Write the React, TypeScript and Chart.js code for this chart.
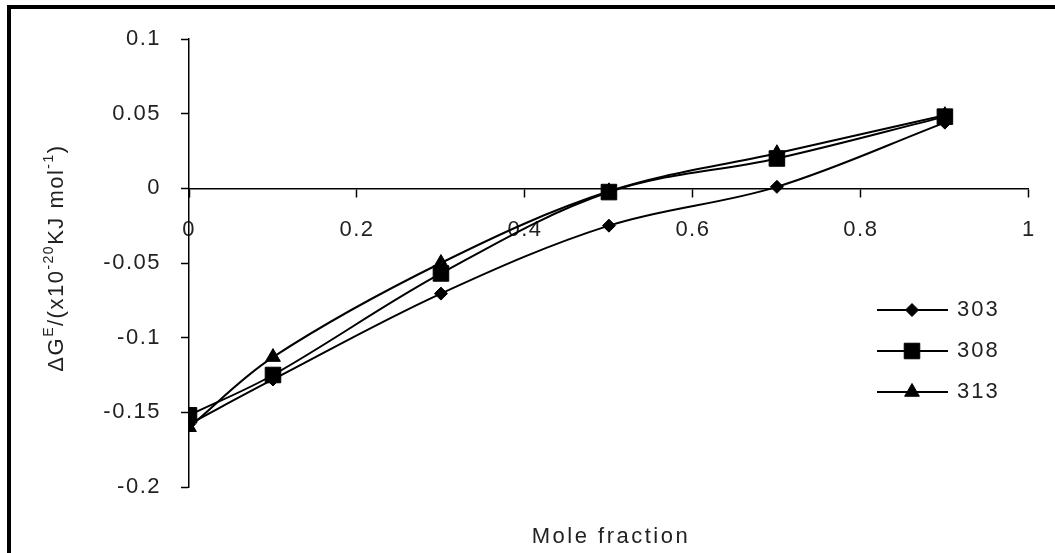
import React, { useEffect, useRef } from 'react';
import { Chart, registerables } from 'chart.js';
import { drawPoint } from 'chart.js/helpers';

Chart.register(...registerables);

// ---- data ----
const moleFraction = [0, 0.1, 0.3, 0.5, 0.7, 0.9];
const series303 = [-0.158, -0.128, -0.0705, -0.025, 0.001, 0.044];
const series308 = [-0.152, -0.125, -0.057, -0.0025, 0.02, 0.048];
const series313 = [-0.16, -0.113, -0.05, -0.002, 0.0235, 0.049];
const seriesNames = ['303', '308', '313'];
const xTickLabels = ['0', '0.2', '0.4', '0.6', '0.8', '1'];
const yTickLabels = ['-0.2', '-0.15', '-0.1', '-0.05', '0', '0.05', '0.1'];
const xTitle = 'Mole fraction';
const yTitleParts: [string, boolean][] = [
  ['ΔG', false],
  ['E', true],
  ['/(x10', false],
  ['-20', true],
  ['KJ mol', false],
  ['-1', true],
  [')', false],
];

const FONT = '"Liberation Sans", Arial, sans-serif';
const FS = 22;
const TEXT = '#222';
const pointStyles = ['rectRot', 'rect', 'triangle'];
const pointRadii = [6.5, 11, 8.5];

const xyData = (ys: number[]) => moleFraction.map((x, i) => ({ x, y: ys[i] }));

const spacing = {
  id: 'spacing',
  beforeDraw(chart: any) {
    chart.ctx.letterSpacing = '1.5px';
  },
  afterDraw(chart: any) {
    chart.ctx.letterSpacing = '0px';
  },
};

const customText = {
  id: 'customText',
  afterDraw(chart: any) {
    const { ctx, chartArea } = chart;
    ctx.save();
    // x title
    ctx.letterSpacing = '2.5px';
    ctx.fillStyle = TEXT;
    ctx.font = `${FS}px ${FONT}`;
    ctx.textAlign = 'center';
    ctx.textBaseline = 'middle';
    ctx.fillText(xTitle, (chartArea.left + chartArea.right) / 2 + 2, 537);

    // y title with superscripts
    ctx.letterSpacing = '1.5px';
    const big = `${FS}px ${FONT}`;
    const small = `14px ${FONT}`;
    let total = 0;
    const widths = yTitleParts.map(([t, sup]) => {
      ctx.font = sup ? small : big;
      const w = ctx.measureText(t).width;
      total += w;
      return w;
    });
    ctx.translate(63, (chartArea.top + chartArea.bottom) / 2 - 5);
    ctx.rotate(-Math.PI / 2);
    ctx.textAlign = 'left';
    ctx.textBaseline = 'alphabetic';
    let cx = -total / 2;
    yTitleParts.forEach(([t, sup], i) => {
      ctx.font = sup ? small : big;
      ctx.fillText(t, cx, sup ? -10 : 0);
      cx += widths[i];
    });
    ctx.restore();

    // legend
    const rows = [310, 351, 392];
    chart.data.datasets.forEach((ds: any, i: number) => {
      const y = rows[i];
      ctx.save();
      ctx.strokeStyle = '#000';
      ctx.lineWidth = 2;
      ctx.beginPath();
      ctx.moveTo(877, y);
      ctx.lineTo(948, y);
      ctx.stroke();
      ctx.fillStyle = '#000';
      ctx.lineWidth = 1;
      drawPoint(ctx, { pointStyle: pointStyles[i], radius: pointRadii[i], borderWidth: 1, rotation: 0 } as any, 912, y);
      ctx.letterSpacing = '2px';
      ctx.fillStyle = TEXT;
      ctx.font = `${FS}px ${FONT}`;
      ctx.textAlign = 'left';
      ctx.textBaseline = 'middle';
      ctx.fillText(ds.label, 957, y);
      ctx.restore();
    });
  },
};

export default function App() {
  const ref = useRef<HTMLCanvasElement>(null);
  useEffect(() => {
    if (!ref.current) return;
    const chart = new Chart(ref.current, {
      type: 'line',
      data: {
        datasets: [series303, series308, series313].map((ys, i) => ({
          label: seriesNames[i],
          data: xyData(ys),
          borderColor: '#000',
          backgroundColor: '#000',
          borderWidth: 2,
          pointStyle: pointStyles[i] as any,
          pointRadius: pointRadii[i],
          pointBorderWidth: 1,
          tension: 0.35,
          fill: false,
        })),
      },
      options: {
        animation: false,
        responsive: false,
        layout: { padding: { top: 39, right: 26, bottom: 66, left: 0 } },
        plugins: { legend: { display: false }, tooltip: { enabled: false } },
        scales: {
          x: {
            type: 'linear',
            position: { y: 0 } as any,
            min: 0,
            max: 1,
            ticks: {
              stepSize: 0.2,
              color: TEXT,
              font: { family: FONT, size: FS },
              padding: 20,
              maxRotation: 0,
              callback: (v: any) => {
                const idx = Math.round(Number(v) / 0.2);
                return xTickLabels[idx] ?? '';
              },
            },
            grid: { drawOnChartArea: false, color: '#000', tickLength: 8, tickWidth: 1.5 },
            border: { color: '#000', width: 1.5 },
          },
          y: {
            type: 'linear',
            position: 'left',
            min: -0.2,
            max: 0.1,
            afterFit: (s: any) => {
              s.width = 189;
            },
            ticks: {
              stepSize: 0.05,
              color: TEXT,
              font: { family: FONT, size: FS },
              padding: 20,
              callback: (v: any) => {
                const idx = Math.round((Number(v) + 0.2) / 0.05);
                return yTickLabels[idx] ?? '';
              },
            },
            grid: { drawOnChartArea: false, color: '#000', tickLength: 8, tickWidth: 1.5 },
            border: { color: '#000', width: 1.5 },
          },
        },
      },
      plugins: [spacing, customText],
    });
    return () => chart.destroy();
  }, []);

  return (
    <div style={{ position: 'absolute', left: 0, top: 0, width: 1055, height: 553, background: '#fff', overflow: 'hidden' }}>
      <canvas ref={ref} width={1055} height={553} style={{ position: 'absolute', left: 0, top: 0 }} />
      <div
        style={{
          position: 'absolute',
          left: 7,
          top: 5,
          width: 1100,
          height: 600,
          borderTop: '4px solid #000',
          borderLeft: '4px solid #000',
          pointerEvents: 'none',
        }}
      />
    </div>
  );
}
